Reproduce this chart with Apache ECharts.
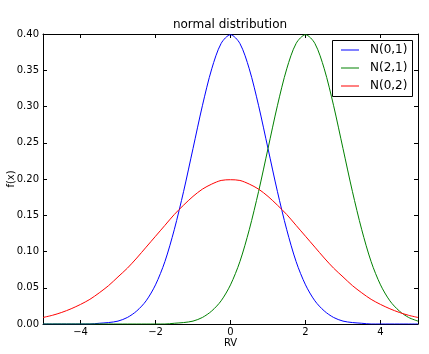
<!DOCTYPE html>
<html>
<head>
<meta charset="utf-8">
<script src="https://cdn.jsdelivr.net/npm/echarts@6/dist/echarts.min.js"></script>
<style>
html,body{margin:0;padding:0;background:#fff;}
#chart{width:429px;height:354px;}
</style>
</head>
<body>
<div id="chart"></div>
<script>
// x positions (RV) and f(x) values
var xs = [-5,-4.75,-4.5,-4.25,-4,-3.75,-3.5,-3.25,-3,-2.75,-2.5,-2.25,-2,-1.75,-1.5,-1.25,-1,-0.75,-0.5,-0.25,
          0,0.25,0.5,0.75,1,1.25,1.5,1.75,2,2.25,2.5,2.75,3,3.25,3.5,3.75,4,4.25,4.5,4.75,5];
var n01 = [0,0,0,0,0,0,0.001,0.002,0.004,0.009,0.018,0.032,0.054,0.086,0.130,0.183,0.242,0.301,0.352,0.387,
           0.399,0.387,0.352,0.301,0.242,0.183,0.130,0.086,0.054,0.032,0.018,0.009,0.004,0.002,0.001,0,0,0,0,0,0];
var n21 = [0,0,0,0,0,0,0,0,0,0,0,0,0,0,0.001,0.002,0.004,0.009,0.018,0.032,
           0.054,0.086,0.130,0.183,0.242,0.301,0.352,0.387,0.399,0.387,0.352,0.301,0.242,0.183,0.130,0.086,0.054,0.032,0.018,0.009,0.004];
var n02 = [0.009,0.012,0.016,0.021,0.027,0.034,0.043,0.053,0.065,0.077,0.091,0.106,0.121,0.136,0.151,0.164,0.176,0.186,0.193,0.198,
           0.199,0.198,0.193,0.186,0.176,0.164,0.151,0.136,0.121,0.106,0.091,0.077,0.065,0.053,0.043,0.034,0.027,0.021,0.016,0.012,0.009];
var xTicks = [-4,-2,0,2,4];
var names = ['N(0,1)','N(2,1)','N(0,2)'];
var colors = ['#0000ff','#008000','#ff0000'];

function pairs(ys){
	var out=[];
	for(var i=0;i<xs.length;i++){
		out.push([xs[i],ys[i]]);
	}
	return out;
}

var font = 'DejaVu Sans';
var myChart = echarts.init(document.getElementById('chart'), null, {renderer:'canvas'});

var axisLine = {show:true, onZero:false, lineStyle:{color:'#000', width:1}};
var tick = {show:true, inside:true, length:4, lineStyle:{color:'#000', width:1}};

var option = {
	animation:false,
	textStyle:{fontFamily:font},
	title:{
		text:'normal distribution',
		left:230,
		top:19,
		padding:0,
		textAlign:'center',
		textStyle:{fontFamily:font, fontSize:12, fontWeight:'normal', color:'#000'}
	},
	// legend frame drawn separately so its size matches the reference
	graphic:[{
		type:'rect', left:332, top:40, z:3,
		shape:{width:80, height:56},
		style:{fill:'#fff', stroke:'#000', lineWidth:1}
	}],
	legend:{
		data:names,
		orient:'vertical',
		left:332,
		top:40,
		padding:[3,4,3,9],
		itemGap:4,
		itemWidth:18,
		itemHeight:1,
		icon:'rect',
		borderWidth:0,
		textStyle:{fontFamily:font, fontSize:12, color:'#000', lineHeight:14, padding:[0,0,0,6]}
	},
	grid:{left:43, right:11, top:34, bottom:30, outerBoundsMode:'none', containLabel:false},
	xAxis:[{
		type:'value', min:-5, max:5,
		name:'RV', nameLocation:'middle', nameGap:14, nameMoveOverlap:false,
		nameTextStyle:{fontFamily:font, fontSize:10, color:'#000'},
		axisLine:axisLine,
		axisTick:{show:true, inside:true, length:4, lineStyle:{color:'#000'}, customValues:xTicks},
		axisLabel:{color:'#000', fontSize:10, fontFamily:font, margin:3, customValues:xTicks,
			formatter:function(v){ return String(v).replace('-', '\u2212'); }},
		splitLine:{show:false}
	},{
		type:'value', min:-5, max:5, position:'top',
		axisLine:axisLine,
		axisTick:{show:true, inside:true, length:4, lineStyle:{color:'#000'}, customValues:xTicks},
		axisLabel:{show:false, customValues:xTicks},
		splitLine:{show:false}
	}],
	yAxis:[{
		type:'value', min:0, max:0.4, interval:0.05,
		name:'f(x)', nameLocation:'middle', nameGap:27, nameMoveOverlap:false,
		nameTextStyle:{fontFamily:font, fontSize:10, color:'#000'},
		axisLine:axisLine,
		axisTick:tick,
		axisLabel:{color:'#000', fontSize:10, fontFamily:font, margin:4,
			formatter:function(v){ return v.toFixed(2); }},
		splitLine:{show:false}
	},{
		type:'value', min:0, max:0.4, interval:0.05, position:'right',
		axisLine:axisLine,
		axisTick:tick,
		axisLabel:{show:false},
		splitLine:{show:false}
	}],
	series:[
		{name:names[0], type:'line', data:pairs(n01), smooth:0.3, showSymbol:false, color:colors[0], lineStyle:{width:1}},
		{name:names[1], type:'line', data:pairs(n21), smooth:0.3, showSymbol:false, color:colors[1], lineStyle:{width:1}},
		{name:names[2], type:'line', data:pairs(n02), smooth:0.3, showSymbol:false, color:colors[2], lineStyle:{width:1}}
	]
};

myChart.setOption(option);
</script>
</body>
</html>
